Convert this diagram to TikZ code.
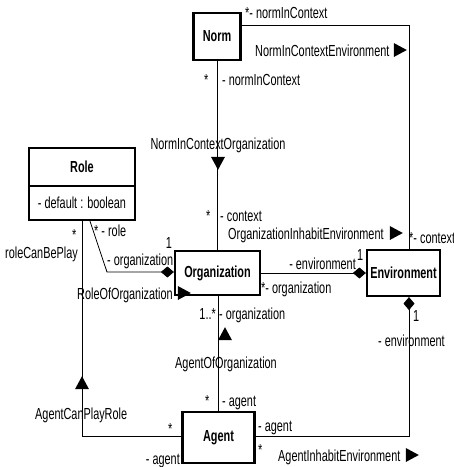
\documentclass[tikz,border=0pt]{standalone}
\usepackage{fontspec}
\setmainfont{Liberation Sans}[FakeStretch=0.68]
\usetikzlibrary{arrows.meta,shapes.geometric}

\begin{document}
\begin{tikzpicture}[x=1pt,y=-1pt,
  font=\fontsize{16}{19}\selectfont,
  classbox/.style={draw, line width=2.2pt, inner sep=0pt, fill=white,
    font=\fontsize{16}{19}\selectfont\bfseries},
  lbl/.style={inner sep=0pt, anchor=base west},
  lble/.style={inner sep=0pt, anchor=base east},
  lblc/.style={inner sep=0pt, anchor=base},
  assoc/.style={line width=0.8pt},
  comp/.style={-{Diamond[length=13pt,width=11pt]}},
  navtri/.style={isosceles triangle, isosceles triangle stretches,
    fill=black, inner sep=0pt, minimum width=14pt, minimum height=13pt}
]
\useasboundingbox (0,0) rectangle (454,467);

% classes
\node[classbox, minimum width=47pt, minimum height=47pt] (norm) at (217,36.5) {Norm};
\node[classbox, minimum width=85pt, minimum height=44pt] (org) at (217.5,273) {Organization};
\node[classbox, minimum width=73pt, minimum height=46pt] (env) at (403.5,273) {Environment};
\node[classbox, minimum width=72pt, minimum height=51pt] (agent) at (218.5,437.5) {Agent};
\node[classbox, minimum width=106pt, minimum height=72pt] (role) at (82,184) {};
\node[inner sep=0pt, font=\fontsize{16}{19}\selectfont\bfseries] (roletitle) at (82,167) {Role};
\node[inner sep=0pt] (roleattr) at (82,203) {- default : boolean};
\coordinate (roledivy) at (0,186);
\draw[line width=2.2pt] (role.west |- roledivy) -- (role.east |- roledivy);

% associations
\coordinate (ne) at (409,25);
\draw[assoc] (norm.east |- ne) -- (ne) -- (ne |- env.north);
\draw[assoc] (norm.south) -- (norm.south |- org.north);
\coordinate (rbend) at (107,272);
\draw[assoc, comp] ([xshift=8pt]role.south) -- (rbend) -- (rbend -| org.west);
\coordinate (abend) at (82,436);
\draw[assoc] (role.south) -- (abend) -- (abend -| agent.west);
\draw[assoc, comp] (org.east) -- (env.west);
\draw[assoc] (agent.north) -- (agent.north |- org.south);
\coordinate (se) at (409,436);
\draw[assoc, comp] (agent.east |- se) -- (se) -- (se |- env.south);

% reading-direction triangles
\node[navtri] (t1) at (398,50) {};
\node[navtri, shape border rotate=-90] (t2) at (218,161) {};
\node[navtri] (t3) at (394,233) {};
\node[navtri] (t4) at (182,293) {};
\node[navtri, shape border rotate=90] (t5) at (82,385) {};
\node[navtri, shape border rotate=90] (t6) at (225,336) {};
\node[navtri] (t7) at (410,455) {};

% association names
\node[lbl] (n1) at (255,56) {NormInContextEnvironment};
\node[lblc] (n2) at (218,149) {NormInContextOrganization};
\node[lbl] (n3) at (228,239) {OrganizationInhabitEnvironment};
\node[lbl] (n4) at (77,299) {RoleOfOrganization};
\node[lbl] (n5) at (5,258) {roleCanBePlay};
\node[lbl] (n6) at (35,419) {AgentCanPlayRole};
\node[lblc] (n7) at (226,368) {AgentOfOrganization};
\node[lbl] (n8) at (278,461) {AgentInhabitEnvironment};

% role names and multiplicities
\node[lbl] (r1) at (245,18) {*- normInContext};
\node[lbl] (r2) at (204,85) {*};
\node[lbl] (r3) at (222,85) {- normInContext};
\node[lbl] (r4) at (206,221) {*};
\node[lbl] (r5) at (220,221) {- context};
\node[lbl] (r6) at (409,243) {*- context};
\node[lble] (r7) at (356,269) {- environment};
\node[lbl] (r8) at (357,260) {1};
\node[lbl] (r9) at (261,293) {*- organization};
\node[lbl] (r10) at (94,236) {* - role};
\node[lblc] (r11) at (169,248) {1};
\node[lbl] (r12) at (107,265) {- organization};
\node[lbl] (r13) at (72,240) {*};
\node[lbl] (r14) at (168,434) {*};
\node[lble] (r15) at (180,464) {- agent};
\node[lble] (r16) at (216,319) {1..*};
\node[lbl] (r17) at (219,319) {- organization};
\node[lbl] (r18) at (205,406) {*};
\node[lbl] (r19) at (222,406) {- agent};
\node[lbl] (r20) at (258,431) {- agent};
\node[lbl] (r21) at (258,455) {*};
\node[lbl] (r22) at (413,321) {1};
\node[lbl] (r23) at (378,346) {- environment};
\end{tikzpicture}
\end{document}
